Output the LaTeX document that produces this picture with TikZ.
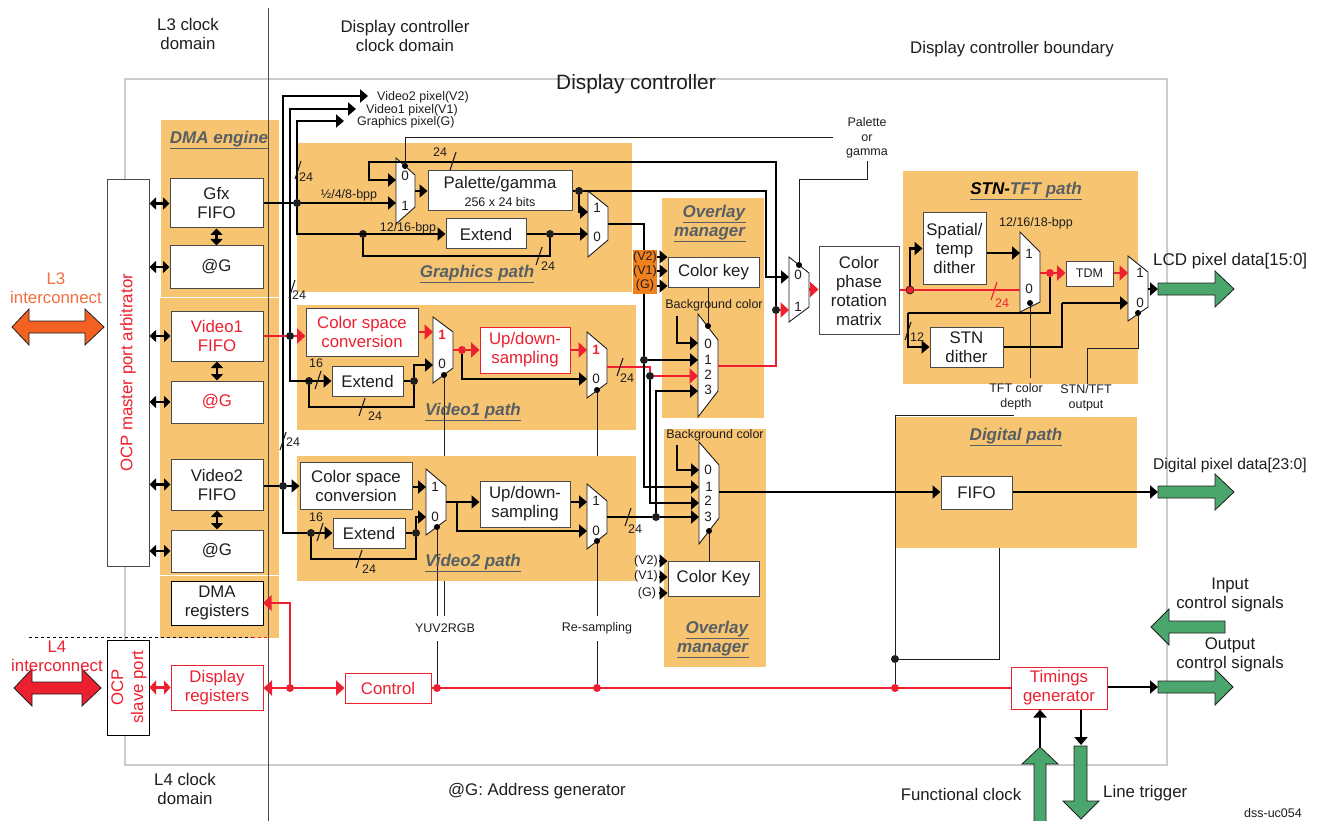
\documentclass[tikz,border=0pt]{standalone}
\usepackage{fontspec}
\setmainfont{Liberation Sans}
\usetikzlibrary{arrows.meta}
\definecolor{panelc}{HTML}{F7C472}
\definecolor{redc}{HTML}{ED2030}
\definecolor{orgc}{HTML}{F26122}
\definecolor{orgt}{HTML}{F36F3F}
\definecolor{grnc}{HTML}{4BA66D}
\definecolor{obox}{HTML}{F07F1E}
\definecolor{titlec}{HTML}{585F64}
\definecolor{inkc}{HTML}{1E1E1E}
\definecolor{edgec}{HTML}{4A4A4A}
\newcounter{txc}
\newcommand{\bx}[7]{%
  \pgfmathsetmacro\bxcx{(#2+#4)/2}\pgfmathsetmacro\bxcy{(#3+#5)/2}%
  \pgfmathsetmacro\bxw{#4-#2}\pgfmathsetmacro\bxh{#5-#3}%
  \node[boxs,#6,minimum width=\bxw pt,minimum height=\bxh pt] (#1) at (\bxcx,\bxcy) {#7};}
\newcommand{\mux}[7]{%
  \pgfmathsetmacro\bxcx{(#2+#4)/2}\pgfmathsetmacro\bxcy{(#3+#7)/2}%
  \pgfmathsetmacro\bxw{#4-#2}\pgfmathsetmacro\bxh{#7-#3}%
  \draw[muxs] (#2,#3)--(#4,#5)--(#4,#6)--(#2,#7)--cycle;
  \node[inner sep=0pt,minimum width=\bxw pt,minimum height=\bxh pt] (#1) at (\bxcx,\bxcy) {};}
\newcommand{\tx}[4][]{\stepcounter{txc}\node[txs,#1] (tx\arabic{txc}) at (#2,#3) {#4};}
\newcommand{\slashm}[3][inkc]{\draw[line width=1.1pt,#1] (#2,#3) ++(3,-9) -- ++(-6,18);}
\newcommand{\ttl}[1]{\underline{\textbf{\textit{#1}}}}
\tikzset{
  boxs/.style={draw=edgec,line width=1pt,fill=white,inner sep=0pt,align=center,text=inkc,font=\fontsize{16.8}{19}\selectfont},
  rbox/.style={draw=redc,text=redc},
  muxs/.style={draw=inkc,line width=.9pt,fill=white},
  panel/.style={fill=panelc,draw=none},
  txs/.style={inner sep=0pt,align=center,text=inkc,font=\fontsize{12.5}{14.5}\selectfont},
  f16/.style={font=\fontsize{16.8}{19}\selectfont},
  f13/.style={font=\fontsize{13.5}{15}\selectfont},
  f12/.style={font=\fontsize{12.5}{14}\selectfont},
  ptitle/.style={text=titlec,font=\fontsize{17}{19.5}\selectfont},
  bus/.style={draw=black,line width=2.2pt},
  arr/.style={bus,-{Triangle[length=8pt,width=13pt]}},
  rline/.style={draw=redc,line width=2.2pt},
  rarr/.style={rline,-{Triangle[length=8.5pt,width=15pt]}},
  dbl/.style={bus,{Triangle[length=6.5pt,width=12pt]}-{Triangle[length=6.5pt,width=12pt]}},
  rdbl/.style={rline,{Triangle[length=6.5pt,width=14pt]}-{Triangle[length=6.5pt,width=14pt]}},
  selln/.style={draw=inkc,line width=1pt},
  jn/.style={circle,fill=inkc,inner sep=0pt,minimum size=8pt},
  jr/.style={circle,fill=redc,inner sep=0pt,minimum size=8pt},
  js/.style={circle,fill=black,inner sep=0pt,minimum size=6pt},
  fatg/.style={fill=grnc,draw=inkc,line width=.8pt},
}
\begin{document}
\begin{tikzpicture}[x=1pt,y=-1pt]
\useasboundingbox (0,0) rectangle (1320,821);
\fill[white] (0,0) rectangle (1320,821);
% boundary
\draw[draw=black!20,line width=2.4pt] (125,79) rectangle (1167,765);
% panels
\fill[panel] (161,120) rectangle (279,297);
\fill[panel] (160,298) rectangle (279,575);
\fill[panel] (160,576) rectangle (279,638);
\fill[panel] (297,143) rectangle (632,292);
\fill[panel] (297,305) rectangle (636,430);
\fill[panel] (297,456) rectangle (636,581);
\fill[panel] (662,198) rectangle (764,418);
\fill[panel] (664,429) rectangle (766,667);
\fill[panel] (903,171) rectangle (1138,384);
\fill[panel] (895,417) rectangle (1137,548);
\draw[line width=1pt,edgec] (268,8) -- (268,821);
\draw[line width=1pt,dashed,black] (29,637) -- (252,637);
\draw[line width=1pt,dashed,redc] (252,637) -- (268,637);
% fat arrows
\draw[fill=orgc,draw=inkc,line width=.8pt] (12,327)--(29,309)--(29,321)--(85,321)--(85,309)--(104,327)--(85,345)--(85,333)--(29,333)--(29,345)--cycle;
\draw[fill=redc,draw=inkc,line width=.8pt] (14,688)--(32,669)--(32,682)--(82,682)--(82,669)--(101,688)--(82,706)--(82,694)--(32,694)--(32,706)--cycle;
\draw[fatg] (1158,283)--(1215,283)--(1215,271)--(1234,289)--(1215,307)--(1215,295)--(1158,295)--cycle;
\draw[fatg] (1158,486)--(1215,486)--(1215,474)--(1234,492)--(1215,510)--(1215,498)--(1158,498)--cycle;
\draw[fatg] (1158,681)--(1215,681)--(1215,669)--(1233,687)--(1215,705)--(1215,693)--(1158,693)--cycle;
\draw[fatg] (1225,621)--(1169,621)--(1169,609)--(1151,627)--(1169,645)--(1169,633)--(1225,633)--cycle;
\draw[fatg] (1034,830)--(1034,764)--(1022,764)--(1040,747)--(1058,764)--(1046,764)--(1046,830)--cycle;
\draw[fatg] (1074,746)--(1087,746)--(1087,801)--(1099,801)--(1081,819)--(1063,801)--(1074,801)--cycle;
% boxes
\bx{ocpm}{107}{180}{149}{566}{}{}
\bx{gf}{170}{179}{263}{228}{}{Gfx\\FIFO}
\bx{ag1}{170}{246}{263}{288}{}{@G}
\bx{v1f}{171}{311}{263}{361}{text=redc}{Video1\\FIFO}
\bx{ag2}{171}{381}{263}{423}{text=redc}{@G}
\bx{v2f}{171}{459}{263}{510}{}{Video2\\FIFO}
\bx{ag3}{171}{530}{263}{572}{}{@G}
\bx{dmar}{171}{581}{263}{625}{draw=black}{DMA\\registers}
\bx{ocps}{107}{640}{149}{735}{draw=black}{}
\bx{disp}{171}{665}{263}{710}{rbox}{Display\\registers}
\bx{ctl}{345}{673}{431}{703}{rbox}{Control}
\bx{tim}{1011}{667}{1107}{709}{rbox}{Timings\\generator}
\bx{pal}{428}{171}{572}{211}{}{Palette/gamma\\[-1pt]{\fontsize{12.5}{14}\selectfont 256 x 24 bits}}
\bx{ex}{446}{219}{526}{249}{}{Extend}
\bx{csc1}{306}{308}{418}{356}{text=redc}{Color space\\conversion}
\bx{ex1}{332}{366}{403}{396}{}{Extend}
\bx{ud1}{480}{327}{570}{373}{rbox}{Up/down-\\sampling}
\bx{csc2}{300}{462}{412}{509}{}{Color space\\conversion}
\bx{ex2}{333}{518}{405}{548}{}{Extend}
\bx{ud2}{480}{481}{570}{527}{}{Up/down-\\sampling}
\bx{ck1}{668}{257}{759}{287}{}{Color key}
\bx{ck2}{668}{561}{759}{596}{}{Color Key}
\bx{mx}{819}{247}{899}{334}{}{Color\\phase\\rotation\\matrix}
\bx{sp}{923}{213}{986}{284}{}{Spatial/\\temp\\dither}
\bx{tdm}{1066}{261}{1113}{286}{font=\fontsize{12.5}{14}\selectfont}{TDM}
\bx{stn}{930}{327}{1003}{367}{}{STN\\dither}
\bx{dfifo}{941}{476}{1012}{509}{}{FIFO}
% orange tag
\bx{ob}{633}{250}{657}{294}{fill=obox,draw=none}{}
% multiplexers
\mux{g1}{396}{158}{415}{175}{207}{224}
\mux{g2}{588}{191}{608}{207}{240}{257}
\mux{v1a}{433}{317}{453}{332}{368}{383}
\mux{v1b}{587}{332}{607}{349}{383}{398}
\mux{v2a}{426}{469}{446}{486}{520}{535}
\mux{v2b}{587}{484}{607}{501}{533}{549}
\mux{o1}{698}{314}{718}{340}{391}{417}
\mux{o2}{699}{442}{719}{465}{518}{544}
\mux{mm}{789}{257}{809}{273}{307}{322}
\mux{ss}{1020}{232}{1040}{252}{302}{312}
\mux{tt}{1128}{256}{1148}{272}{307}{321}
% junctions
\node[jn] (jV2) at (283,486) {};
\node[jn] (jV1) at (290,336) {};
\node[jn] (jG) at (297,203) {};
\node[jn] (jX) at (363,234) {};
\node[jn] (jY) at (550,234) {};
\node[jn] (jP) at (579,191) {};
\node[jn] (jE1a) at (309,381) {};
\node[jn] (jE1b) at (414,381) {};
\node[jn] (jE2a) at (311,533) {};
\node[jn] (jE2b) at (416,533) {};
\node[jr] (jU1) at (462,350) {};
\node[jn] (jO1) at (644,360) {};
\node[jn] (jO2) at (650,376) {};
\node[jn] (jO3) at (656,517) {};
\node[jn] (jM1) at (776,310) {};
\node[jr,draw=inkc,line width=.7pt] (jS) at (910,290) {};
\node[jr] (jT) at (1050,273) {};
\node[jr] (jR0) at (290,688) {};
\node[jr] (jR1) at (437,688) {};
\node[jr] (jR2) at (597,688) {};
\node[jr] (jR3) at (895,688) {};
\node[jn] (jD) at (895,659) {};
\node[js] (sG1) at (405,166) {};
\node[js] (sM) at (799,265) {};
\node[js] (sV1a) at (444,375) {};
\node[js] (sV2a) at (437,527) {};
\node[js] (sV1b) at (597,390) {};
\node[js] (sV2b) at (597,541) {};
\node[js] (sO1) at (708,326) {};
\node[js] (sO2) at (709,531) {};
\node[js] (sS) at (1030,303) {};
\node[js] (sT) at (1138,313) {};
% pins
\coordinate (pv2) at (368,96);
\coordinate (pv1) at (356,109);
\coordinate (pg) at (344,121);
\coordinate (g1i0) at (396,180);
\coordinate (g1i1) at (396,203);
\coordinate (g2i1) at (588,212);
\coordinate (g2i0) at (588,234);
\coordinate (cb0) at (363,256);
\coordinate (fb2) at (369,162);
\coordinate (c766) at (766,191);
\coordinate (mi0) at (789,277);
\coordinate (mi1) at (789,310);
\coordinate (oT) at (644,250);
\coordinate (oB) at (644,294);
\coordinate (m1i0) at (698,343);
\coordinate (m1i1) at (698,360);
\coordinate (m1i2) at (698,376);
\coordinate (m1i3) at (698,391);
\coordinate (m2i0) at (699,470);
\coordinate (m2i1) at (699,487);
\coordinate (m2i2) at (699,503);
\coordinate (m2i3) at (699,517);
\coordinate (bg1) at (677,316);
\coordinate (bg2) at (677,445);
\coordinate (v1ai1) at (433,332);
\coordinate (v1ai0) at (433,365);
\coordinate (v1bi1) at (587,350);
\coordinate (v1bi0) at (587,379);
\coordinate (v2ai1) at (426,487);
\coordinate (v2ai0) at (426,517);
\coordinate (v2bi1) at (587,502);
\coordinate (v2bi0) at (587,531);
\coordinate (cb1) at (309,407);
\coordinate (cb2) at (311,559);
\coordinate (r1) at (607,367);
\coordinate (v2o) at (607,517);
\coordinate (v2oa) at (446,502);
\coordinate (v2ob) at (457,502);
\coordinate (o1o) at (718,366);
\coordinate (o2o) at (719,492);
\coordinate (dg) at (1158,492);
\coordinate (si0) at (1020,290);
\coordinate (si1) at (1020,253);
\coordinate (ti1) at (1128,273);
\coordinate (ti0) at (1128,303);
\coordinate (c908) at (908,313);
\coordinate (c1062) at (1062,303);
\coordinate (lcd) at (1158,289);
\coordinate (oc) at (1158,687);
\coordinate (fc) at (1040,747);
\coordinate (lt) at (1081,745);
\coordinate (dmap) at (263,603);
\coordinate (ka1) at (657,257);
\coordinate (ka2) at (657,271);
\coordinate (ka3) at (657,286);
\coordinate (kb1) at (659,561);
\coordinate (kb2) at (659,577);
\coordinate (kb3) at (659,593);
\coordinate (palEnd) at (833,138);
\coordinate (pgA) at (867,180);
\coordinate (pgB) at (867,161);
\coordinate (yA) at (444,456);
\coordinate (yB) at (444,581);
\coordinate (yC) at (444,616);
\coordinate (yD) at (437,616);
\coordinate (yE) at (437,641);
\coordinate (rA) at (597,456);
\coordinate (rB) at (597,616);
\coordinate (rC) at (597,641);
\coordinate (sSe) at (1030,378);
\coordinate (sTa) at (1087,348);
\coordinate (sTb) at (1087,384);
\coordinate (dA) at (895,415);
\coordinate (dB) at (1014,415);
\coordinate (dC) at (999,548);
% top pixel buses
\draw[arr] (jV2) |- (pv2);
\draw[arr] (jV1) |- (pv1);
\draw[arr] (jG) |- (pg);
% graphics path
\draw[bus] (jG -| gf.east) -- (jG);
\draw[arr] (jG) -- (g1i1);
\draw[arr] (jG) |- (ex.west);
\draw[bus] (jX) -- (cb0) -| (jY);
\draw[bus] (ex.east) -- (jY);
\draw[arr] (jY) -- (g2i0);
\draw[arr] (jM1) |- (fb2) |- (g1i0);
\draw[arr] (g1.east) -- (g1.east -| pal.west);
\draw[bus] (pal.east) -- (jP);
\draw[arr] (jP) |- (g2i1);
\draw[arr] (jP) -- (c766) |- (mi0);
\draw[bus] (g2.east) -| (oT);
% video1 path
\draw[rline] (jV1 -| v1f.east) -- (jV1);
\draw[rarr] (jV1) -- (jV1 -| csc1.west);
\draw[arr] (jV1) |- (ex1.west);
\draw[bus] (jE1a) -- (cb1) -| (jE1b);
\draw[bus] (ex1.east) -- (jE1b);
\draw[arr] (jE1b) |- (v1ai0);
\draw[rarr] (v1ai1 -| csc1.east) -- (v1ai1);
\draw[rline] (jU1 -| v1a.east) -- (jU1);
\draw[rarr] (jU1) -- (jU1 -| ud1.west);
\draw[arr] (jU1) |- (v1bi0);
\draw[rarr] (v1bi1 -| ud1.east) -- (v1bi1);
\draw[rline] (r1) -| (jO2);
% video2 path
\draw[bus] (jV2 -| v2f.east) -- (jV2);
\draw[arr] (jV2) -- (jV2 -| csc2.west);
\draw[bus] (jV2) |- (jE2a);
\draw[arr] (jE2a) -- (ex2.west);
\draw[bus] (jE2a) -- (cb2) -| (jE2b);
\draw[bus] (ex2.east) -- (jE2b);
\draw[arr] (jE2b) |- (v2ai0);
\draw[arr] (v2ai1 -| csc2.east) -- (v2ai1);
\draw[bus] (v2oa) -- (v2ob);
\draw[arr] (v2ob) -- (v2ob -| ud2.west);
\draw[arr] (v2ob) |- (v2bi0);
\draw[arr] (v2bi1 -| ud2.east) -- (v2bi1);
\draw[bus] (v2o) -- (jO3);
% overlay
\draw[bus] (oB) -- (jO1);
\draw[arr] (jO1) -- (m1i1);
\draw[arr] (jO1) |- (m2i1);
\draw[rarr] (jO2) -- (m1i2);
\draw[arr] (jO2) |- (m2i2);
\draw[arr] (jO3) |- (m1i3);
\draw[arr] (jO3) -- (m2i3);
\draw[arr] (bg1) |- (m1i0);
\draw[arr] (bg2) |- (m2i0);
\foreach \k in {ka1,ka2,ka3} {\draw[arr] (\k) -- (\k -| ck1.west);}
\foreach \k in {kb1,kb2,kb3} {\draw[arr] (\k) -- (\k -| ck2.west);}
\draw[rline] (o1o) -| (jM1);
\draw[rarr] (jM1) -- (mi1);
\draw[rarr] (mm.east) -- (mm.east -| mx.west);
% stn-tft
\draw[rline] (jS -| mx.east) -- (jS);
\draw[rline] (jS) -- (si0);
\draw[arr] (jS) |- (sp.west);
\draw[arr] (si1 -| sp.east) -- (si1);
\draw[rline] (jT -| ss.east) -- (jT);
\draw[rarr] (jT) -- (jT -| tdm.west);
\draw[rarr] (ti1 -| tdm.east) -- (ti1);
\draw[bus] (jT) |- (c908);
\draw[arr] (c908) |- (stn.west);
\draw[bus] (stn.east) -| (c1062);
\draw[arr] (c1062) -- (ti0);
\draw[arr] (lcd -| tt.east) -- (lcd);
% digital
\draw[arr] (o2o) -- (o2o -| dfifo.west);
\draw[arr] (dg -| dfifo.east) -- (dg);
% left side
\draw[dbl] (gf.west -| ocpm.east) -- (gf.west);
\draw[dbl] (ag1.west -| ocpm.east) -- (ag1.west);
\draw[dbl] (v1f.west -| ocpm.east) -- (v1f.west);
\draw[dbl] (ag2.west -| ocpm.east) -- (ag2.west);
\draw[dbl] (v2f.west -| ocpm.east) -- (v2f.west);
\draw[dbl] (ag3.west -| ocpm.east) -- (ag3.west);
\draw[dbl] (gf.south) -- (ag1.north);
\draw[dbl] (v1f.south) -- (ag2.north);
\draw[dbl] (v2f.south) -- (ag3.north);
\draw[rdbl] (disp.west -| ocps.east) -- (disp.west);
% control bus
\draw[rarr] (jR0) -- (jR0 -| disp.east);
\draw[rarr] (jR0) |- (dmap);
\draw[rarr] (jR0) -- (jR0 -| ctl.west);
\draw[rline] (jR1 -| ctl.east) -- (jR1 -| tim.west);
\draw[arr] (oc -| tim.east) -- (oc);
\draw[arr] (fc) -- (fc |- tim.south);
\draw[arr] (lt |- tim.south) -- (lt);
% select lines
\draw[selln] (sG1) |- (palEnd);
\draw[selln] (sM) |- (pgA) -- (pgB);
\draw[selln] (sV1a) -- (yA);
\draw[selln] (yB) -- (yC);
\draw[selln] (sV2a) -- (yD);
\draw[selln] (yE) -- (jR1);
\draw[selln] (sV1b) -- (rA);
\draw[selln] (sV2b) -- (rB);
\draw[selln] (rC) -- (jR2);
\draw[selln] (sO1) -- (sO1 |- ck1.south);
\draw[selln] (sO2) -- (sO2 |- ck2.north);
\draw[selln] (sS) -- (sSe);
\draw[selln] (sT) |- (sTa) -- (sTb);
\draw[selln] (jR3) -- (jD) -- (dA) -- (dB);
\draw[selln] (jD) -| (dC);
% bus width marks
\slashm{298}{170} \tx{306}{177}{24}
\slashm{292}{289} \tx{299}{295}{24}
\slashm{283}{441} \tx{293}{442}{24}
\slashm{453}{161} \tx{440}{152}{24}
\slashm{539}{256} \tx{548}{266}{24}
\slashm{318}{380} \tx{316}{363}{16}
\slashm{362}{407} \tx{375}{416}{24}
\slashm{620}{367} \tx{627}{378}{24}
\slashm{320}{532} \tx{316}{517}{16}
\slashm{359}{559} \tx{369}{569}{24}
\slashm{628}{517} \tx{635}{529}{24}
\slashm[redc]{994}{291} \tx[text=redc]{1002}{303}{24}
\slashm{908}{331} \tx{917}{337}{12}
% mux digits
\tx[f13]{405}{176}{0} \tx[f13]{405}{206}{1}
\tx[f13]{597}{208}{1} \tx[f13]{597}{237}{0}
\tx[f13,text=redc]{442}{335}{\textbf{1}} \tx[f13]{442}{364}{0}
\tx[f13,text=redc]{596}{350}{\textbf{1}} \tx[f13]{596}{379}{0}
\tx[f13]{435}{487}{1} \tx[f13]{435}{517}{0}
\tx[f13]{596}{501}{1} \tx[f13]{596}{531}{0}
\tx[f13]{708}{344}{0} \tx[f13]{708}{360}{1} \tx[f13]{708}{375}{2} \tx[f13]{708}{390}{3}
\tx[f13]{708}{470}{0} \tx[f13]{709}{487}{1} \tx[f13]{708}{501}{2} \tx[f13]{708}{517}{3}
\tx[f13]{798}{275}{0} \tx[f13]{798}{307}{1}
\tx[f13]{1029}{254}{1} \tx[f13]{1029}{289}{0}
\tx[f13]{1140}{273}{1} \tx[f13]{1140}{303}{0}
% labels
\tx[f16]{188}{34}{L3 clock\\domain}
\tx[f16]{405}{36}{Display controller\\clock domain}
\tx[f16]{1012}{49}{Display controller boundary}
\tx[font=\fontsize{20.8}{24}\selectfont]{636}{84}{Display controller}
\tx[f16]{185}{789}{L4 clock\\domain}
\tx[f16]{537}{791}{@G: Address generator}
\tx[f16,text=orgt]{56}{288}{L3\\interconnect}
\tx[f16,text=redc]{57}{656}{L4\\interconnect}
\tx[f16,text=redc,rotate=90]{128}{373}{OCP master port arbitrator}
\tx[f16,text=redc,rotate=90]{129}{687}{OCP\\[1pt]slave port}
\tx[ptitle]{219}{140}{\ttl{DMA engine}}
\tx[ptitle]{477}{274}{\ttl{Graphics path}}
\tx[ptitle]{473}{412}{\ttl{Video1 path}}
\tx[ptitle]{473}{563}{\ttl{Video2 path}}
\tx[ptitle,anchor=east]{746}{223}{\begin{tabular}{@{}r@{}}\ttl{Overlay}\\\ttl{manager}\end{tabular}}
\tx[ptitle,anchor=east]{749}{639}{\begin{tabular}{@{}r@{}}\ttl{Overlay}\\\ttl{manager}\end{tabular}}
\tx[ptitle]{1026}{191}{\underline{\textcolor{black}{\textbf{\textit{STN-}}}\textbf{\textit{TFT path}}}}
\tx[ptitle]{1016}{437}{\ttl{Digital path}}
\tx[anchor=west]{377}{97}{Video2 pixel(V2)}
\tx[anchor=west]{366}{110}{Video1 pixel(V1)}
\tx[anchor=west]{357}{122}{Graphics pixel(G)}
\tx{349}{195}{½/4/8-bpp}
\tx{408}{228}{12/16-bpp}
\tx{1036}{223}{12/16/18-bpp}
\tx{867}{138}{Palette\\or\\gamma}
\tx{714}{305}{Background color}
\tx{715}{435}{Background color}
\tx{645}{257}{(V2)} \tx{645}{271}{(V1)} \tx{645}{285}{(G)}
\tx{646}{561}{(V2)} \tx{646}{576}{(V1)} \tx{647}{593}{(G)}
\tx{445}{628}{YUV2RGB}
\tx{597}{628}{Re-sampling}
\tx{1016}{397}{TFT color\\depth}
\tx{1086}{398}{STN/TFT\\output}
\tx[font=\fontsize{17}{19}\selectfont,anchor=west]{1153}{261}{LCD pixel data[15:0]}
\tx[font=\fontsize{15.6}{19}\selectfont,anchor=west]{1153}{465}{Digital pixel data[23:0]}
\tx[f16]{1230}{595}{Input\\control signals}
\tx[f16]{1230}{655}{Output\\control signals}
\tx[f16]{961}{794}{Functional clock}
\tx[f16,anchor=west]{1103}{793}{Line trigger}
\tx[font=\fontsize{12.5}{14}\selectfont]{1273}{813}{dss-uc054}
\end{tikzpicture}
\end{document}
